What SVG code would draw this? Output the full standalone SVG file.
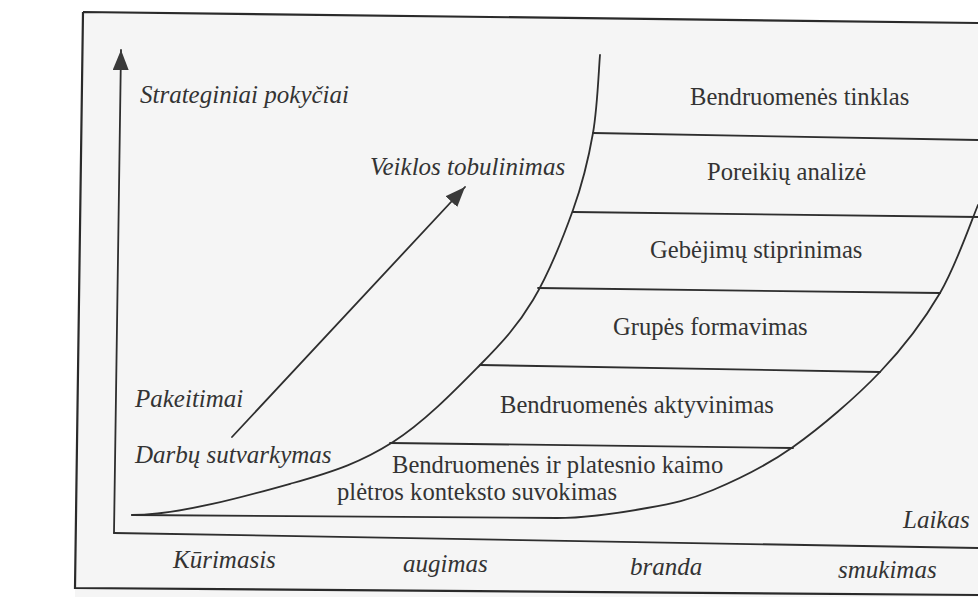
<svg xmlns="http://www.w3.org/2000/svg" width="978" height="597" viewBox="0 0 978 597">
<style>
.ln{fill:none;stroke:#2e2e2e;stroke-width:1.8;stroke-linecap:round}
.fr{fill:none;stroke:#2a2a2a;stroke-width:2.2}
.it{font-family:"Liberation Serif","Times New Roman",serif;font-style:italic;font-size:25px;fill:#333}
.rm{font-family:"Liberation Serif","Times New Roman",serif;font-size:24.6px;fill:#333}
</style>
<defs>
<marker id="ah" markerUnits="userSpaceOnUse" markerWidth="22" markerHeight="18" refX="20" refY="8" orient="auto">
<path d="M0,0 L20,8 L0,16 z" fill="#3a3a3a"/>
</marker>
</defs>
<rect x="0" y="0" width="978" height="597" fill="#ffffff"/>
<polygon points="83,12 978,23 978,597 75,597" fill="#f5f5f5"/>
<g id="frame">
<path class="fr" d="M83,12 L978,23 M83,12 L75,588 L978,595"/>
</g>
<g id="connectors">
<path class="ln" d="M114,533 L121,50" marker-end="url(#ah)"/>
<path class="ln" d="M114,533 L978,548"/>
<path class="ln" d="M232,437 L465,187" marker-end="url(#ah)"/>
<path class="ln" d="M132,515 C180,515 249.5,495.2 293,483 C336.5,470.8 361.8,461.7 393,442 C424.2,422.3 456.7,388.7 480,365 C503.3,341.3 517.5,325.8 533,300 C548.5,274.2 563,237.8 573,210 C583,182.2 588.5,158.8 593,133 C597.5,107.2 598.8,68 600,55"/>
<path class="ln" d="M132,515 L557,518 C590,518 621,512.7 647,508 C673,503.3 688.7,500.2 713,490 C737.3,479.8 765.2,466.7 793,447 C820.8,427.3 855.5,397.7 880,372 C904.5,346.3 923.7,320.8 940,293 C956.3,265.2 971.7,219.7 978,205"/>
<path class="ln" d="M390,443 L793,448 M480,365 L880,372 M538,288 L940,293 M573,212 L978,217 M593,133 L978,140"/>
</g>
<g id="axis-labels">
<text class="it" x="140" y="103">Strateginiai pokyčiai</text>
<text class="it" x="370" y="175">Veiklos tobulinimas</text>
<text class="it" x="135" y="407">Pakeitimai</text>
<text class="it" x="135" y="463">Darbų sutvarkymas</text>
<text class="it" x="903" y="528">Laikas</text>
</g>
<g id="phases">
<text class="it" x="173" y="568">Kūrimasis</text>
<text class="it" x="403" y="572">augimas</text>
<text class="it" x="630" y="575">branda</text>
<text class="it" x="838" y="578">smukimas</text>
</g>
<g id="band-tinklas"><text class="rm" x="690" y="105">Bendruomenės tinklas</text></g>
<g id="band-poreikiu"><text class="rm" x="707" y="180">Poreikių analizė</text></g>
<g id="band-gebejimu"><text class="rm" x="650" y="258">Gebėjimų stiprinimas</text></g>
<g id="band-grupes"><text class="rm" x="613" y="335">Grupės formavimas</text></g>
<g id="band-aktyvinimas"><text class="rm" x="500" y="413">Bendruomenės aktyvinimas</text></g>
<g id="band-suvokimas">
<text class="rm" x="392" y="473">Bendruomenės ir platesnio kaimo</text>
<text class="rm" x="337" y="500">plėtros konteksto suvokimas</text>
</g>
</svg>
